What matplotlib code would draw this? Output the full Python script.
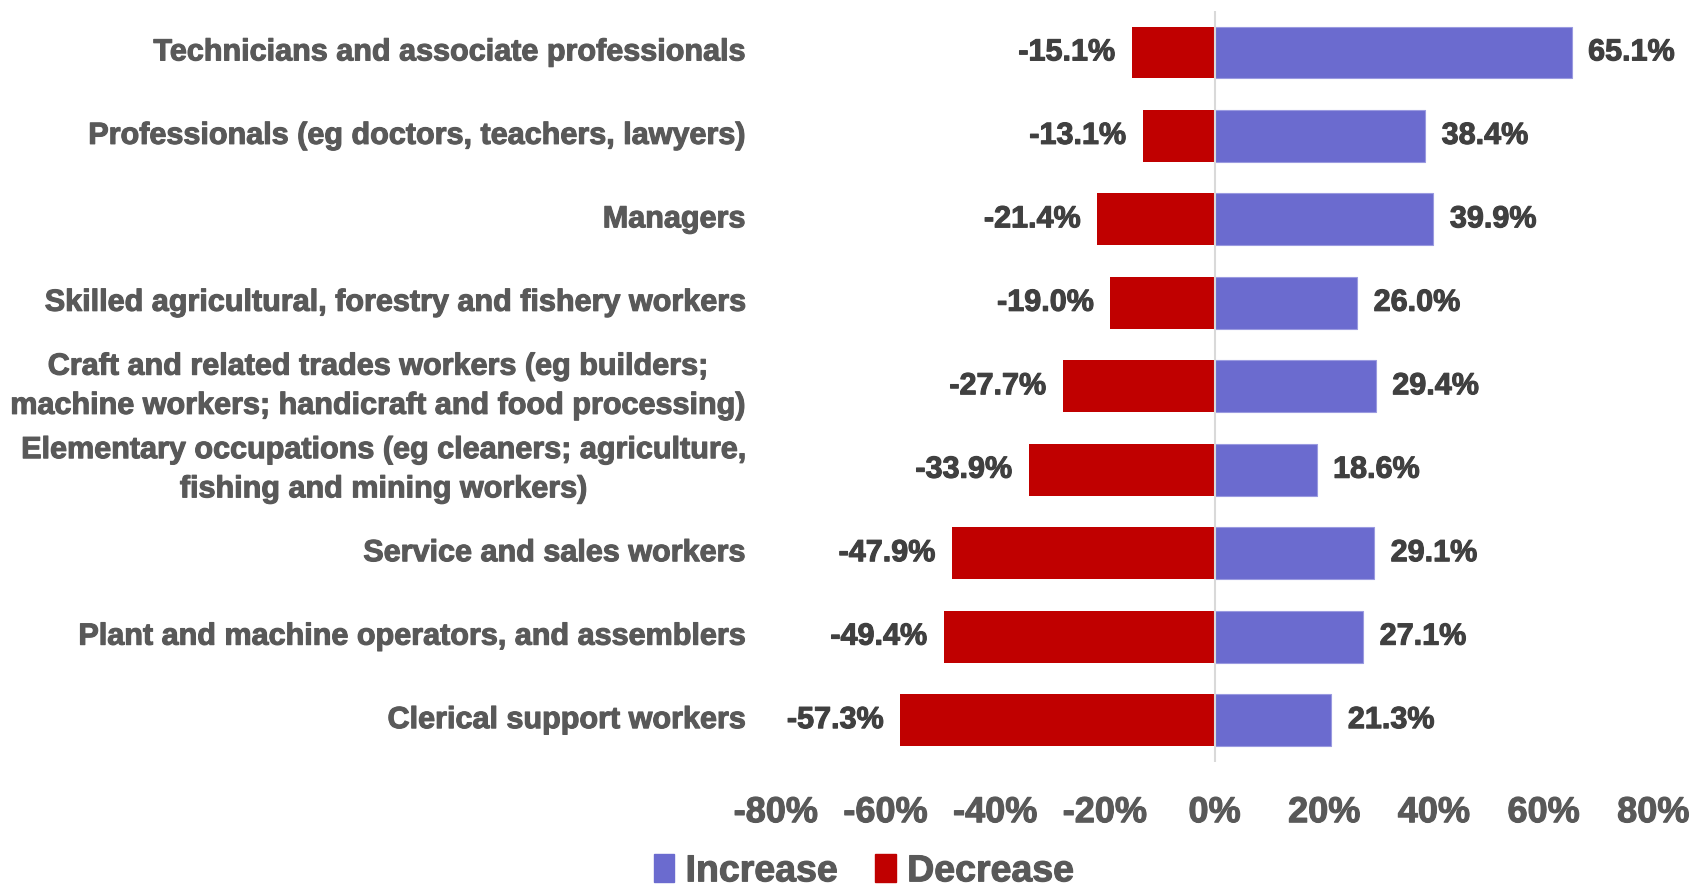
import matplotlib.pyplot as plt
import numpy as np
from matplotlib.ticker import FuncFormatter
from matplotlib.patches import Patch
import matplotlib.patheffects as pe

categories = [
    "Technicians and associate professionals",
    "Professionals (eg doctors, teachers, lawyers)",
    "Managers",
    "Skilled agricultural, forestry and fishery workers",
    "Craft and related trades workers (eg builders;\nmachine workers; handicraft and food processing)",
    "Elementary occupations (eg cleaners; agriculture,\nfishing and mining workers)",
    "Service and sales workers",
    "Plant and machine operators, and assemblers",
    "Clerical support workers",
]
increase = [65.1, 38.4, 39.9, 26.0, 29.4, 18.6, 29.1, 27.1, 21.3]
decrease = [-15.1, -13.1, -21.4, -19.0, -27.7, -33.9, -47.9, -49.4, -57.3]
xticks = [-80, -60, -40, -20, 0, 20, 40, 60, 80]

BLUE = "#6B6BCF"
RED = "#C00000"
LABEL_GREY = "#595959"
VALUE_GREY = "#404040"

plt.rcParams["font.family"] = ["Liberation Sans", "DejaVu Sans"]
plt.rcParams["font.weight"] = "bold"


def main():
    fig = plt.figure(figsize=(16.94, 8.90), dpi=100)
    ax = fig.add_axes([0.458, 0.144, 0.518, 0.844])

    # a thin stroke makes the bold text look heavier, like the original
    heavy = lambda c: [pe.withStroke(linewidth=0.8, foreground=c)]

    y = np.arange(len(categories))
    ax.barh(y, increase, height=0.62, color=BLUE, edgecolor="#9A9AE0", linewidth=0.8)
    ax.barh(y, decrease, height=0.62, color=RED)
    ax.axvline(0, color="#D9D9D9", linewidth=1.5, zorder=3)

    for yi, v in zip(y, increase):
        ax.text(v + 3, yi, f"{v:.1f}%", ha="left", va="center",
                fontsize=22, fontweight="bold", color=VALUE_GREY,
                path_effects=heavy(VALUE_GREY))
    for yi, v in zip(y, decrease):
        ax.text(v - 3, yi, f"{v:.1f}%", ha="right", va="center",
                fontsize=22, fontweight="bold", color=VALUE_GREY,
                path_effects=heavy(VALUE_GREY))

    ax.set_xlim(-80, 80)
    ax.set_ylim(len(categories) - 0.5, -0.5)
    ax.set_xticks(xticks)
    ax.xaxis.set_major_formatter(FuncFormatter(lambda v, p: f"{v:.0f}%"))
    ax.set_yticks(y)
    ax.set_yticklabels(categories, multialignment="center", linespacing=1.4)
    ax.tick_params(axis="y", length=0, pad=22, labelsize=22, labelcolor=LABEL_GREY)
    ax.tick_params(axis="x", length=0, pad=24, labelsize=26, labelcolor=LABEL_GREY)
    for lab in ax.get_xticklabels() + ax.get_yticklabels():
        lab.set_fontweight("bold")
        lab.set_path_effects(heavy(LABEL_GREY))
    for lab in ax.get_yticklabels():
        lab.set_verticalalignment("center")
    for s in ax.spines.values():
        s.set_visible(False)

    handles = [Patch(color=BLUE, label="Increase"), Patch(color=RED, label="Decrease")]
    leg = fig.legend(handles=handles, loc="center", bbox_to_anchor=(0.51, 0.021),
                     ncol=2, frameon=False, fontsize=27, handlelength=0.55,
                     handleheight=0.75, handletextpad=0.3, columnspacing=1.0)
    for t in leg.get_texts():
        t.set_color(LABEL_GREY)
        t.set_fontweight("bold")
        t.set_path_effects(heavy(LABEL_GREY))

    fig.savefig("out.png", dpi=100)


if __name__ == "__main__":
    main()
